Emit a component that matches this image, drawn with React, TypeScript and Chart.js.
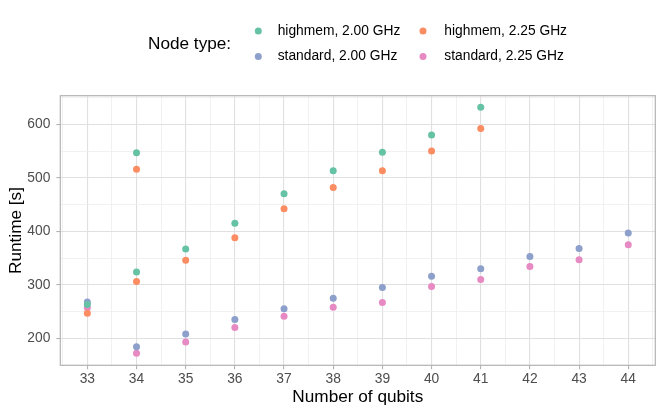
import React, { useEffect, useRef } from "react";
import { Chart, registerables } from "chart.js";

Chart.register(...registerables);

// ---- data ----
const qubitsHighmem = [33, 34, 34, 35, 36, 37, 38, 39, 40, 41];
const highmem200 = [263, 547, 324, 367, 415, 470, 513, 548, 580, 632];
const highmem225 = [247, 516, 306, 346, 388, 442, 482, 513, 550, 592];

const qubitsStandard = [33, 34, 35, 36, 37, 38, 39, 40, 41, 42, 43, 44];
const standard200 = [268, 184, 208, 235, 255, 275, 295, 316, 330, 353, 368, 397];
const standard225 = [257, 172, 193, 220, 241, 258, 267, 297, 310, 334, 347, 375];

const seriesLabels = [
  "highmem, 2.00 GHz",
  "highmem, 2.25 GHz",
  "standard, 2.00 GHz",
  "standard, 2.25 GHz",
];
const seriesColors = ["#66C2A5", "#FC8D62", "#8DA0CB", "#E78AC3"];

const xTickLabels = [33, 34, 35, 36, 37, 38, 39, 40, 41, 42, 43, 44];
const yTickLabels = [200, 300, 400, 500, 600];

const legendTitle = "Node type:";
const xTitle = "Number of qubits";
const yTitle = "Runtime [s]";

const FONT = "'Liberation Sans', Arial, Helvetica, sans-serif";
const MAJOR = "#e0e0e0";
const MINOR = "#eeeeee";
const FRAME = "#b3b3b3";

function toPoints(xs: number[], ys: number[]) {
  return xs.map((x, i) => ({ x, y: ys[i] }));
}

const decorations = {
  id: "decorations",
  beforeDatasetsDraw(chart: any) {
    const { ctx, chartArea } = chart;
    ctx.save();
    ctx.strokeStyle = FRAME;
    ctx.lineWidth = 1.2;
    ctx.strokeRect(
      chartArea.left,
      chartArea.top,
      chartArea.right - chartArea.left,
      chartArea.bottom - chartArea.top
    );
    ctx.restore();
  },
  afterDraw(chart: any) {
    const { ctx, chartArea } = chart;
    ctx.save();
    ctx.fillStyle = "#000000";
    // axis titles
    ctx.font = `17.2px ${FONT}`;
    ctx.textAlign = "center";
    ctx.textBaseline = "middle";
    ctx.fillText(xTitle, (chartArea.left + chartArea.right) / 2, 397);
    ctx.save();
    ctx.translate(16, (chartArea.top + chartArea.bottom) / 2);
    ctx.rotate(-Math.PI / 2);
    ctx.fillText(yTitle, 0, 0);
    ctx.restore();

    // legend
    ctx.textAlign = "left";
    ctx.font = `17.2px ${FONT}`;
    ctx.fillText(legendTitle, 148, 44.5);
    const dotX = [258.3, 423];
    const textX = [277.7, 444.3];
    const rowY = [31, 56.5];
    ctx.font = `13.8px ${FONT}`;
    chart.data.datasets.forEach((ds: any, i: number) => {
      const col = i % 2;
      const row = Math.floor(i / 2);
      ctx.beginPath();
      ctx.fillStyle = ds.backgroundColor;
      ctx.arc(dotX[col], rowY[row], 3.5, 0, Math.PI * 2);
      ctx.fill();
      ctx.fillStyle = "#000000";
      ctx.fillText(ds.label, textX[col], rowY[row]);
    });
    ctx.restore();
  },
};

export default function App() {
  const canvasRef = useRef<HTMLCanvasElement | null>(null);

  useEffect(() => {
    if (!canvasRef.current) return;
    const seriesData = [
      toPoints(qubitsHighmem, highmem200),
      toPoints(qubitsHighmem, highmem225),
      toPoints(qubitsStandard, standard200),
      toPoints(qubitsStandard, standard225),
    ];
    const isMajorX = (v: number) => xTickLabels.includes(v);
    const isMajorY = (v: number) => yTickLabels.includes(v);

    const chart = new Chart(canvasRef.current, {
      type: "scatter",
      data: {
        datasets: seriesData.map((d, i) => ({
          label: seriesLabels[i],
          data: d,
          backgroundColor: seriesColors[i],
          borderColor: seriesColors[i],
          pointRadius: 3.5,
          pointBorderWidth: 0,
          pointHoverRadius: 3.5,
        })),
      },
      options: {
        responsive: false,
        animation: false,
        events: [],
        layout: { padding: { top: 95.7, right: 8.7, left: 0, bottom: 0 } },
        plugins: {
          legend: { display: false },
          tooltip: { enabled: false },
        },
        scales: {
          x: {
            type: "linear",
            min: 32.45,
            max: 44.55,
            afterFit: (s: any) => {
              s.height = 49.7;
            },
            border: { display: false },
            grid: {
              color: (c: any) => (c.tick && isMajorX(c.tick.value) ? MAJOR : MINOR),
              lineWidth: (c: any) => (c.tick && isMajorX(c.tick.value) ? 1.1 : 0.8),
              tickColor: (c: any) =>
                c.tick && isMajorX(c.tick.value) ? FRAME : "rgba(0,0,0,0)",
              tickLength: 4,
              drawTicks: true,
            },
            ticks: {
              stepSize: 0.5,
              includeBounds: false,
              autoSkip: false,
              maxRotation: 0,
              padding: 2,
              color: "#4d4d4d",
              font: { family: FONT, size: 13.8 },
              callback: (v: any) => (isMajorX(Number(v)) ? String(v) : ""),
            },
          },
          y: {
            type: "linear",
            min: 149.5,
            max: 653.5,
            afterFit: (s: any) => {
              s.width = 60.3;
            },
            border: { display: false },
            grid: {
              color: (c: any) => (c.tick && isMajorY(c.tick.value) ? MAJOR : MINOR),
              lineWidth: (c: any) => (c.tick && isMajorY(c.tick.value) ? 1.1 : 0.8),
              tickColor: (c: any) =>
                c.tick && isMajorY(c.tick.value) ? FRAME : "rgba(0,0,0,0)",
              tickLength: 4,
              drawTicks: true,
            },
            ticks: {
              stepSize: 50,
              includeBounds: false,
              autoSkip: false,
              padding: 6,
              color: "#4d4d4d",
              font: { family: FONT, size: 13.8 },
              callback: (v: any) => (isMajorY(Number(v)) ? String(v) : ""),
            },
          },
        },
      },
      plugins: [decorations],
    });
    return () => chart.destroy();
  }, []);

  return (
    <div
      style={{
        position: "fixed",
        left: 0,
        top: 0,
        width: 664,
        height: 415,
        background: "#ffffff",
      }}
    >
      <canvas ref={canvasRef} width={664} height={415} />
    </div>
  );
}
